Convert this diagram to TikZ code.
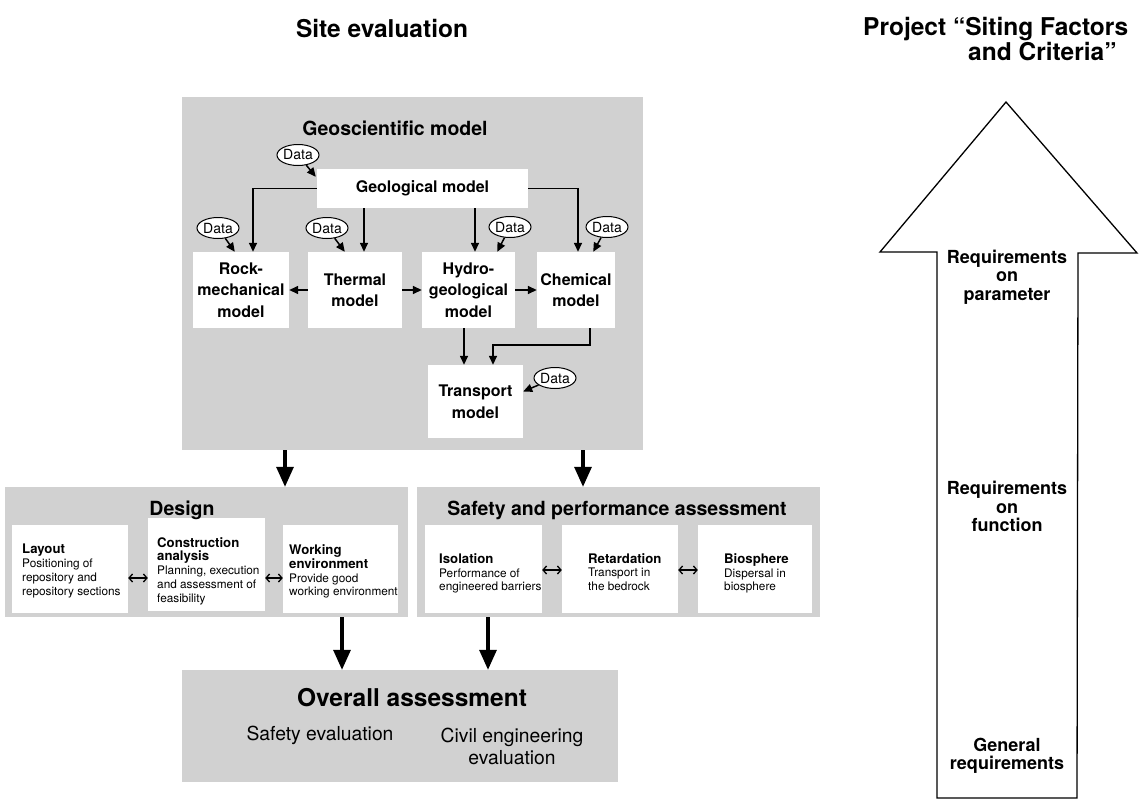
\documentclass[tikz,border=0pt]{standalone}
\usepackage{fontspec}
\setmainfont{TeX Gyre Heros}
\usetikzlibrary{arrows.meta,calc,shapes.geometric}
\definecolor{halftone}{gray}{0.82}
\newcommand\cardhead[1]{{\bfseries\fontsize{13.2}{13.8}\selectfont #1}}
\begin{document}
\begin{tikzpicture}[x=1pt,y=-1pt,
  headline/.style={font=\bfseries\fontsize{24.5}{26}\selectfont, inner sep=0},
  paneltitle/.style={font=\bfseries\fontsize{19.5}{22}\selectfont, inner sep=0},
  panel/.style={fill=halftone, inner sep=0},
  card/.style={fill=white, inner sep=0},
  modeltext/.style={font=\bfseries\fontsize{16}{21.5}\selectfont, align=center},
  cardtext/.style={anchor=west, align=left, inner sep=0, font=\fontsize{11.8}{13.8}\selectfont},
  databall/.style={ellipse, draw, line width=1pt, fill=white, inner sep=0,
    minimum width=42, minimum height=21, font=\fontsize{14}{16}\selectfont},
  flow/.style={line width=1.5pt, -{Triangle[length=9pt,width=8pt]}},
  bigflow/.style={line width=3.2pt, -{Triangle[length=20pt,width=17pt]}},
  twoway/.style={line width=1.3pt, {Straight Barb[length=3.5pt,width=8pt]}-{Straight Barb[length=3.5pt,width=8pt]}},
  reqtext/.style={font=\bfseries\fontsize{18}{18.5}\selectfont, align=center, inner sep=0},
  overtext/.style={font=\fontsize{19.3}{22}\selectfont, align=center, inner sep=0}]

\useasboundingbox (0,0) rectangle (1139,800);
\fill[white] (0,0) rectangle (1139,800);

% headings
\node[headline] (site) at (382,29) {Site evaluation};
\node[headline, anchor=west] (proj1) at (863,29) {Project “Siting Factors};
\node[headline, anchor=west] (proj2) at (968,52) {and Criteria”};

% geoscientific model panel
\node[panel, minimum width=461, minimum height=353] (geo) at (412.5,273.5) {};
\node[paneltitle] (geotitle) at (395,128) {Geoscientific model};

\node[card, modeltext, minimum width=211, minimum height=39] (geol) at (422.5,188.5) {Geological model};
\node[card, modeltext, minimum width=96, minimum height=76] (rock) at (241,290) {Rock-\\mechanical\\model};
\node[card, modeltext, minimum width=94, minimum height=76] (ther) at (355,290) {Thermal\\model};
\node[card, modeltext, minimum width=93, minimum height=76] (hyd) at (468.5,290) {Hydro-\\geological\\model};
\node[card, modeltext, minimum width=78, minimum height=76] (chem) at (576,290) {Chemical\\model};
\node[card, modeltext, minimum width=95, minimum height=73] (trans) at (475.5,401.5) {Transport\\model};

\node[databall] (dgeo) at (298,155) {Data};
\node[databall] (drock) at (218,228) {Data};
\node[databall] (dther) at (327,228) {Data};
\node[databall] (dhyd) at (510,227) {Data};
\node[databall] (dchem) at (607,227) {Data};
\node[databall] (dtrans) at (555,378) {Data};

% geological model feeds the four sub-models
\coordinate (rockin) at ($(rock.north)+(12,0)$);
\draw[flow] (geol.west) -| (rockin);
\coordinate (therin) at ($(ther.north)+(9,0)$);
\draw[flow] (therin |- geol.south) -- (therin);
\coordinate (hydin) at ($(hyd.north)+(6.5,0)$);
\draw[flow] (hydin |- geol.south) -- (hydin);
\coordinate (chemin) at ($(chem.north)+(2,0)$);
\draw[flow] (geol.east) -| (chemin);

% data inputs
\draw[flow] (dgeo) -- ($(geol.north west)+(-1,8)$);
\draw[flow] (drock) -- ($(rock.north west)+(42,0)$);
\draw[flow] (dther) -- ($(ther.north west)+(37,0)$);
\draw[flow] (dhyd) -- ($(hyd.north east)+(-18,0)$);
\draw[flow] (dchem) -- ($(chem.north east)+(-22,0)$);
\draw[flow] (dtrans) -- ($(trans.east)+(0,-10)$);

% couplings between sub-models
\draw[flow] (ther.west) -- (rock.east);
\draw[flow] (ther.east) -- (hyd.west);
\draw[flow] (hyd.east) -- (chem.west);

\coordinate (transinA) at ($(trans.north)+(-11.5,0)$);
\draw[flow] (transinA |- hyd.south) -- (transinA);
\coordinate (transinB) at ($(trans.north)+(17.5,0)$);
\draw[flow] ($(chem.south)+(14,0)$) |- ($(transinB)+(0,-20)$) -- (transinB);

% design panel
\node[panel, minimum width=403, minimum height=130] (design) at (206.5,552) {};
\node[card, minimum width=116, minimum height=88] (layout) at (70,569) {};
\node[card, minimum width=117, minimum height=93] (constr) at (206.5,564.5) {};
\node[card, minimum width=115, minimum height=88] (work) at (340.5,569) {};
\node[paneltitle] (designtitle) at (182,510) {Design};
\node[cardtext] (layouttext) at (22,571) {\cardhead{Layout}\\Positioning of\\repository and\\repository sections};
\node[cardtext] (constrtext) at (157,571) {\cardhead{Construction}\\\cardhead{analysis}\\Planning, execution\\and assessment of\\feasibility};
\node[cardtext] (worktext) at (289,571.5) {\cardhead{Working}\\\cardhead{environment}\\Provide good\\working environment};
\coordinate (designrow) at (0,578);
\draw[twoway] (layout.east |- designrow) -- (constr.west |- designrow);
\draw[twoway] (constr.east |- designrow) -- (work.west |- designrow);

% safety and performance assessment panel
\node[panel, minimum width=403, minimum height=130] (safety) at (618.5,552) {};
\node[card, minimum width=117, minimum height=88] (iso) at (483.5,569) {};
\node[card, minimum width=116, minimum height=88] (ret) at (620,569) {};
\node[card, minimum width=114, minimum height=88] (bio) at (755,569) {};
\node[paneltitle] (safetytitle) at (617,510) {Safety and performance assessment};
\node[cardtext] (isotext) at (439,573.5) {\cardhead{Isolation}\\Performance of\\engineered barriers};
\node[cardtext] (rettext) at (588,572) {\cardhead{Retardation}\\Transport in\\the bedrock};
\node[cardtext] (biotext) at (724,573.5) {\cardhead{Biosphere}\\Dispersal in\\biosphere};
\coordinate (safetyrow) at (0,570);
\draw[twoway] (iso.east |- safetyrow) -- (ret.west |- safetyrow);
\draw[twoway] (ret.east |- safetyrow) -- (bio.west |- safetyrow);

% overall assessment panel
\node[panel, minimum width=436, minimum height=112] (overall) at (400,726) {};
\node[headline] (overalltitle) at (412,698) {Overall assessment};
\node[overtext] (safeeval) at (320,735) {Safety evaluation};
\node[overtext] (civileval) at (512,746) {Civil engineering\\evaluation};

% main flow between panels
\coordinate (downL) at (285,0);
\draw[bigflow] (downL |- geo.south) -- (downL |- design.north);
\coordinate (downR) at (583,0);
\draw[bigflow] (downR |- geo.south) -- (downR |- safety.north);
\coordinate (downD) at (342,0);
\draw[bigflow] (downD |- design.south) -- (downD |- overall.north);
\coordinate (downS) at (488,0);
\draw[bigflow] (downS |- safety.south) -- (downS |- overall.north);

% requirements arrow
\draw[line width=1.3pt, line join=miter, fill=white]
  (937,798) -- (937,252) -- (880,252) -- (1006,102) -- (1137,253)
  -- (1078,253) -- (1077,798) -- cycle;
\node[reqtext] (req1) at (1007,277) {Requirements\\on\\parameter};
\node[reqtext] (req2) at (1007,506.5) {Requirements\\on\\function};
\node[reqtext] (req3) at (1007,756) {General\\requirements};
\end{tikzpicture}
\end{document}
